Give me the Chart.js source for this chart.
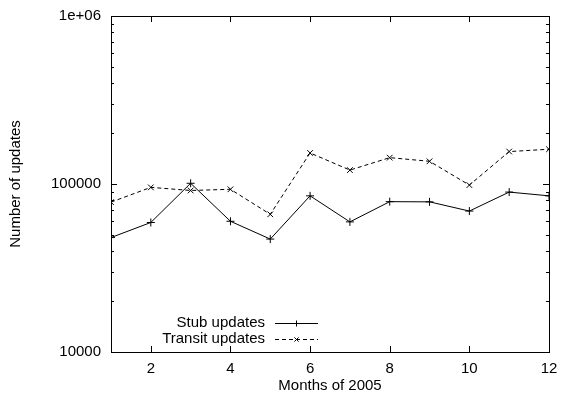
<!DOCTYPE html>
<html>
<head>
<meta charset="utf-8">
<script src="https://cdn.jsdelivr.net/npm/chart.js@4"></script>
<style>
html, body { margin: 0; padding: 0; background: #fff; }
#wrap { width: 561px; height: 398px; }
</style>
</head>
<body>
<div id="wrap"><canvas id="myChart"></canvas></div>
<script>
// data
const months = [1, 2, 3, 4, 5, 6, 7, 8, 9, 10, 11, 12];
const stubUpdates = [48000, 59000, 101000, 60000, 47000, 85000, 59500, 78500, 78300, 69000, 89500, 85000];
const transitUpdates = [78000, 95500, 91500, 93000, 66000, 153000, 121000, 143500, 136500, 98500, 156000, 161000];
const xTickValues = [2, 4, 6, 8, 10, 12];
const yTickValues = [10000, 100000, 1000000];
const yTickLabels = ["10000", "100000", "1e+06"];

const FONT = "'Liberation Sans', Arial, Helvetica, sans-serif";
Chart.defaults.font.family = FONT;
Chart.defaults.font.size = 15;
Chart.defaults.color = "#000";

// gnuplot style frame, inward ticks and legend
const gnuplotBits = {
    id: "gnuplotBits",
    afterDraw(chart) {
        const ctx = chart.ctx;
        const a = chart.chartArea;
        const xs = chart.scales.x, ys = chart.scales.y;
        ctx.save();
        ctx.strokeStyle = "#000";
        ctx.lineWidth = 1;
        ctx.setLineDash([]);
        ctx.strokeRect(Math.round(a.left) + 0.5, Math.round(a.top) + 0.5,
            Math.round(a.right - a.left), Math.round(a.bottom - a.top));

        ctx.beginPath();
        xTickValues.forEach(v => {
            const px = Math.round(xs.getPixelForValue(v)) + 0.5;
            ctx.moveTo(px, a.bottom); ctx.lineTo(px, a.bottom - 6);
            ctx.moveTo(px, a.top); ctx.lineTo(px, a.top + 6);
        });
        for (let d = 10000; d < 1000000; d *= 10) {
            for (let k = 1; k <= 10; k++) {
                const v = d * k;
                const py = Math.round(ys.getPixelForValue(v)) + 0.5;
                const len = (k === 1 || k === 10) ? 6 : 3;
                ctx.moveTo(a.left, py); ctx.lineTo(a.left + len, py);
                ctx.moveTo(a.right, py); ctx.lineTo(a.right - len, py);
            }
        }
        ctx.stroke();

        // legend, text right aligned in front of the line sample
        ctx.font = "15px " + FONT;
        ctx.fillStyle = "#000";
        ctx.textAlign = "right";
        ctx.textBaseline = "middle";
        chart.data.datasets.forEach((ds, i) => {
            const y = 323 + i * 16;
            ctx.fillText(ds.label, 265, y);
            ctx.beginPath();
            ctx.setLineDash(ds.borderDash || []);
            ctx.moveTo(275, y + 0.5); ctx.lineTo(318, y + 0.5);
            ctx.stroke();
            ctx.setLineDash([]);
            Chart.helpers.drawPoint(ctx, {
                pointStyle: ds.pointStyle, radius: 3, borderWidth: 1
            }, 296.5, y + 0.5);
        });
        ctx.restore();
    }
};

new Chart(document.getElementById("myChart").getContext("2d"), {
    type: "line",
    data: {
        labels: months,
        datasets: [{
            label: "Stub updates",
            data: stubUpdates,
            borderColor: "#000",
            backgroundColor: "#000",
            borderWidth: 1,
            pointStyle: "cross",
            pointRadius: 4,
            pointBorderWidth: 1,
            lineTension: 0,
            fill: false
        }, {
            label: "Transit updates",
            data: transitUpdates,
            borderColor: "#000",
            backgroundColor: "#000",
            borderWidth: 1,
            borderDash: [4, 3],
            pointStyle: "crossRot",
            pointRadius: 4,
            pointBorderWidth: 1,
            lineTension: 0,
            fill: false
        }]
    },
    options: {
        responsive: true,
        maintainAspectRatio: false,
        animation: false,
        layout: { padding: { top: 16, right: 12, left: 0, bottom: 0 } },
        plugins: { legend: { display: false }, tooltip: { enabled: false } },
        scales: {
            x: {
                type: "linear",
                min: 1,
                max: 12,
                afterBuildTicks: s => { s.ticks = xTickValues.map(v => ({ value: v })); },
                afterFit: s => { s.height = 46; s.paddingLeft = 0; s.paddingRight = 0; },
                grid: { drawOnChartArea: false, drawTicks: false },
                border: { display: false },
                ticks: { padding: 8, maxRotation: 0 },
                title: { display: true, text: "Months of 2005", padding: { top: 0, bottom: 3 } }
            },
            y: {
                type: "logarithmic",
                min: 10000,
                max: 1000000,
                afterBuildTicks: s => { s.ticks = yTickValues.map(v => ({ value: v })); },
                afterFit: s => { s.width = 111; s.paddingTop = 0; s.paddingBottom = 0; },
                grid: { drawOnChartArea: false, drawTicks: false },
                border: { display: false },
                ticks: {
                    padding: 10,
                    callback: v => yTickLabels[yTickValues.indexOf(v)]
                },
                title: { display: true, text: "Number of updates", padding: { top: 7, bottom: 0 } }
            }
        }
    },
    plugins: [gnuplotBits]
});
</script>
</body>
</html>
